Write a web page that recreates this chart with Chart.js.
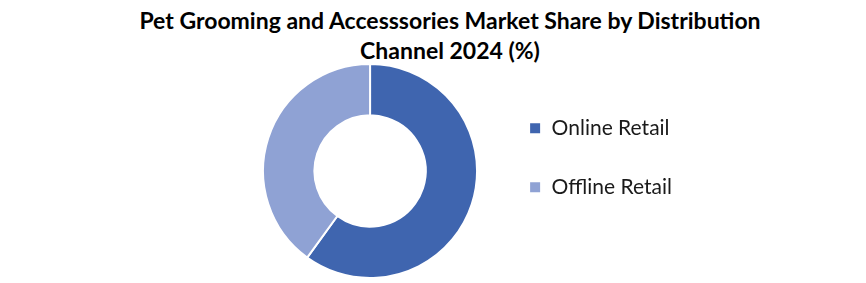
<!DOCTYPE html>
<html>
<head>
<meta charset="utf-8">
<script src="https://cdn.jsdelivr.net/npm/chart.js@4"></script>
<style>
  html, body { margin: 0; padding: 0; background: #fff; }
  #wrap { width: 866px; height: 283px; overflow: hidden; }
  #title {
    height: 63px;
    box-sizing: border-box;
    padding: 5px 0 0 34px;
    font-family: "Lato", sans-serif;
    font-weight: bold;
    font-size: 23px;
    line-height: 30px;
    color: #000;
    text-align: center;
    white-space: nowrap;
  }
  canvas { display: block; }
</style>
</head>
<body>
<div id="wrap">
  <div id="title"></div>
  <canvas id="shareChart" width="866" height="220"></canvas>
</div>
<script>
// Market share by distribution channel, 2024 (%)
const channels = ["Online Retail", "Offline Retail"];
const shares = [60, 40];
const sliceColors = ["#3F65AF", "#8FA2D4"];
const titleLines = ["Pet Grooming and Accesssories Market Share by Distribution", "Channel 2024 (%)"];

document.getElementById("title").innerHTML = titleLines.join("<br>");

const ctx = document.getElementById("shareChart").getContext("2d");

const shareChart = new Chart(ctx, {
  type: "doughnut",
  data: {
    labels: channels,
    datasets: [
      {
        label: "Market Share 2024",
        data: shares,
        backgroundColor: sliceColors,
        borderColor: "#ffffff",
        borderWidth: 2,
      },
    ],
  },
  options: {
    responsive: false,
    animation: false,
    cutout: "52%",
    layout: {
      padding: { left: 249, right: 184, top: 0, bottom: 4 },
    },
    plugins: {
      legend: {
        position: "right",
        align: "start",
        // empty legend title only used as a top spacer
        title: { display: true, text: "", padding: 0, font: { size: 14, lineHeight: 1.2 } },
        labels: {
          boxWidth: 12,
          boxHeight: 12,
          padding: 38,
          color: "#1a1a1a",
          font: { family: "Lato", size: 21 },
        },
      },
      tooltip: { enabled: false },
    },
  },
});
</script>
</body>
</html>
